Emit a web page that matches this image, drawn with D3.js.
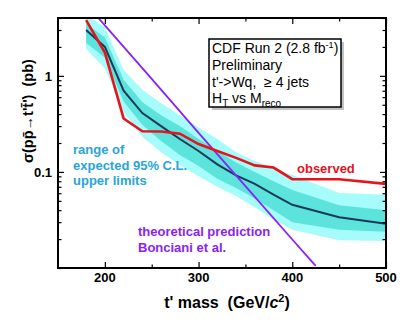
<!DOCTYPE html>
<html>
<head>
<meta charset="utf-8">
<script src="https://cdn.jsdelivr.net/npm/d3@7"></script>
<style>
  body { margin: 0; background: #fff; }
  text { font-family: "Liberation Sans", Arial, sans-serif; white-space: pre; }
</style>
</head>
<body>
<div id="chart"></div>
<script>
// mass points (GeV/c^2) for the expected limits
var masses   = [180, 200, 220, 240, 260, 280, 300, 320, 340, 360, 380, 400, 450, 500];
var expMed   = [3.0, 2.0, 0.70, 0.41, 0.30, 0.22, 0.165, 0.12, 0.092, 0.075, 0.058, 0.0455, 0.0337, 0.0288];
var exp1Hi   = [3.5, 2.5, 0.91, 0.53, 0.39, 0.30, 0.22, 0.165, 0.125, 0.10, 0.08, 0.065, 0.045, 0.040];
var exp1Lo   = [2.2, 1.55, 0.54, 0.31, 0.21, 0.15, 0.115, 0.085, 0.068, 0.053, 0.040, 0.030, 0.025, 0.0238];
var exp2Hi   = [4.3, 3.2, 1.15, 0.715, 0.52, 0.39, 0.29, 0.22, 0.16, 0.13, 0.11, 0.093, 0.0605, 0.0577];
var exp2Lo   = [1.9, 1.2, 0.42, 0.233, 0.16, 0.118, 0.09, 0.07, 0.056, 0.043, 0.032, 0.025, 0.0195, 0.0191];

// observed limit
var obsMass  = [180, 200, 220, 240, 260, 280, 300, 320, 340, 360, 380, 400, 450, 500];
var obsLimit = [3.8, 1.75, 0.36, 0.265, 0.263, 0.25, 0.195, 0.165, 0.14, 0.117, 0.111, 0.084, 0.084, 0.075];

// theory (Bonciani et al.)
var thMass   = [180, 200, 250, 300, 350, 400, 425];
var thXsec   = [5.6, 3.35, 0.93, 0.255, 0.071, 0.0198, 0.0105];

var xMajor = [200, 300, 400, 500];
var xMinor = [250, 350, 450];
var yLabels = [1, 0.1];

var width = 411, height = 329;
var margin = {top: 18, right: 25, bottom: 61, left: 58};
var w = width - margin.left - margin.right;
var h = height - margin.top - margin.bottom;

var svg = d3.select("#chart").append("svg")
    .attr("width", width)
    .attr("height", height);

var x = d3.scaleLinear().domain([150, 500]).range([0, w]);
var y = d3.scaleLog().domain([0.01, 4]).range([h, 0]);

var g = svg.append("g")
    .attr("transform", "translate(" + margin.left + "," + margin.top + ")");

g.append("clipPath").attr("id", "clip")
  .append("rect").attr("width", w).attr("height", h);

var plot = g.append("g").attr("clip-path", "url(#clip)");

var band = function(lo, hi) {
    return d3.area()
        .x(function(d, i) { return x(masses[i]); })
        .y0(function(d, i) { return y(lo[i]); })
        .y1(function(d, i) { return y(hi[i]); })(masses);
};

plot.append("path").attr("d", band(exp2Lo, exp2Hi)).attr("fill", "#a6fbfb");
plot.append("path").attr("d", band(exp1Lo, exp1Hi)).attr("fill", "#5ce3dc");

var line = d3.line()
    .x(function(d) { return x(d[0]); })
    .y(function(d) { return y(d[1]); });

plot.append("path")
    .attr("d", line(d3.zip(masses, expMed)))
    .attr("fill", "none").attr("stroke", "#173a5c").attr("stroke-width", 2);

plot.append("path")
    .attr("d", line(d3.zip(thMass, thXsec)))
    .attr("fill", "none").attr("stroke", "#8a22f5").attr("stroke-width", 1.8);

plot.append("path")
    .attr("d", line(d3.zip(obsMass, obsLimit)))
    .attr("fill", "none").attr("stroke", "#e8121c").attr("stroke-width", 2.6);

// axes, ticks pointing inward on all four sides
var yMinor = y.ticks().filter(function(v) { return yLabels.indexOf(v) < 0; });

function styleAxis(sel) {
    sel.select(".domain").remove();
    sel.selectAll("line").attr("stroke", "#000").attr("stroke-width", 1.2);
    sel.selectAll("text").remove();
}

g.append("g").attr("transform", "translate(0," + h + ")")
    .call(d3.axisBottom(x).tickValues(xMajor).tickSize(-6)).call(styleAxis);
g.append("g").attr("transform", "translate(0," + h + ")")
    .call(d3.axisBottom(x).tickValues(xMinor).tickSize(-3.5)).call(styleAxis);
g.append("g")
    .call(d3.axisTop(x).tickValues(xMajor).tickSize(-6)).call(styleAxis);
g.append("g")
    .call(d3.axisTop(x).tickValues(xMinor).tickSize(-3.5)).call(styleAxis);

g.append("g").call(d3.axisLeft(y).tickValues(yLabels).tickSize(-6)).call(styleAxis);
g.append("g").call(d3.axisLeft(y).tickValues(yMinor).tickSize(-3.5)).call(styleAxis);
g.append("g").attr("transform", "translate(" + w + ",0)")
    .call(d3.axisRight(y).tickValues(yLabels).tickSize(-6)).call(styleAxis);
g.append("g").attr("transform", "translate(" + w + ",0)")
    .call(d3.axisRight(y).tickValues(yMinor).tickSize(-3.5)).call(styleAxis);

g.append("rect")
    .attr("width", w).attr("height", h)
    .attr("fill", "none").attr("stroke", "#000").attr("stroke-width", 2);

// tick labels
g.selectAll(".xl").data(xMajor).enter().append("text")
    .attr("x", function(d) { return x(d); })
    .attr("y", h + 14)
    .attr("text-anchor", "middle")
    .style("font-size", "13px").style("font-weight", "bold")
    .text(function(d) { return d; });

g.selectAll(".yl").data(yLabels).enter().append("text")
    .attr("x", -6)
    .attr("y", function(d) { return y(d) + 5; })
    .attr("text-anchor", "end")
    .style("font-size", "13px").style("font-weight", "bold")
    .text(function(d) { return d; });

// axis titles
var xt = svg.append("text")
    .attr("x", margin.left + w / 2 + 5)
    .attr("y", 308)
    .attr("text-anchor", "middle")
    .style("font-size", "16px").style("font-weight", "bold");
xt.append("tspan").text("t' mass  (GeV/");
xt.append("tspan").style("font-style", "italic").text("c");
xt.append("tspan").attr("dy", -6).style("font-size", "11px").text("2");
xt.append("tspan").attr("dy", 6).text(")");

svg.append("text")
    .attr("transform", "translate(33,111) rotate(-90)")
    .attr("text-anchor", "middle")
    .style("font-size", "14.5px").style("font-weight", "bold")
    .text("\u03c3(pp\u0304\u2192t't\u0304')  (pb)");

// annotations
var blue = svg.append("text")
    .attr("x", 73).attr("y", 154)
    .style("font-size", "13px").style("font-weight", "bold")
    .attr("fill", "#2aa5da");
["range of", "expected 95% C.L.", "upper limits"].forEach(function(s, i) {
    blue.append("tspan").attr("x", 73).attr("dy", i ? 15.5 : 0).text(s);
});

svg.append("text")
    .attr("x", 297).attr("y", 173)
    .style("font-size", "13px").style("font-weight", "bold")
    .attr("fill", "#e8121c")
    .text("observed");

var purp = svg.append("text")
    .attr("x", 138).attr("y", 236)
    .style("font-size", "13px").style("font-weight", "bold")
    .attr("fill", "#8a22f5");
["theoretical prediction", "Bonciani et al."].forEach(function(s, i) {
    purp.append("tspan").attr("x", 138).attr("dy", i ? 16 : 0).text(s);
});

// info box with shadow
svg.append("rect")
    .attr("x", 212).attr("y", 42).attr("width", 132).attr("height", 68)
    .attr("fill", "#9a9a9a").attr("opacity", 0.6);
svg.append("rect")
    .attr("x", 209).attr("y", 39).attr("width", 132).attr("height", 68)
    .attr("fill", "#fff").attr("stroke", "#000").attr("stroke-width", 1.5);

var info = svg.append("g").style("font-size", "14px");
var l1 = info.append("text").attr("x", 212).attr("y", 53);
l1.append("tspan").text("CDF Run 2 (2.8 fb");
l1.append("tspan").attr("dy", -5).style("font-size", "9px").text("-1");
l1.append("tspan").attr("dy", 5).text(")");
info.append("text").attr("x", 212).attr("y", 70).text("Preliminary");
info.append("text").attr("x", 212).attr("y", 86.5).text("t'->Wq,  \u2265 4 jets");
var l4 = info.append("text").attr("x", 212).attr("y", 103);
l4.append("tspan").text("H");
l4.append("tspan").attr("dy", 4).style("font-size", "10px").text("T");
l4.append("tspan").attr("dy", -4).text(" vs M");
l4.append("tspan").attr("dy", 4).style("font-size", "10px").text("reco");
</script>
</body>
</html>
